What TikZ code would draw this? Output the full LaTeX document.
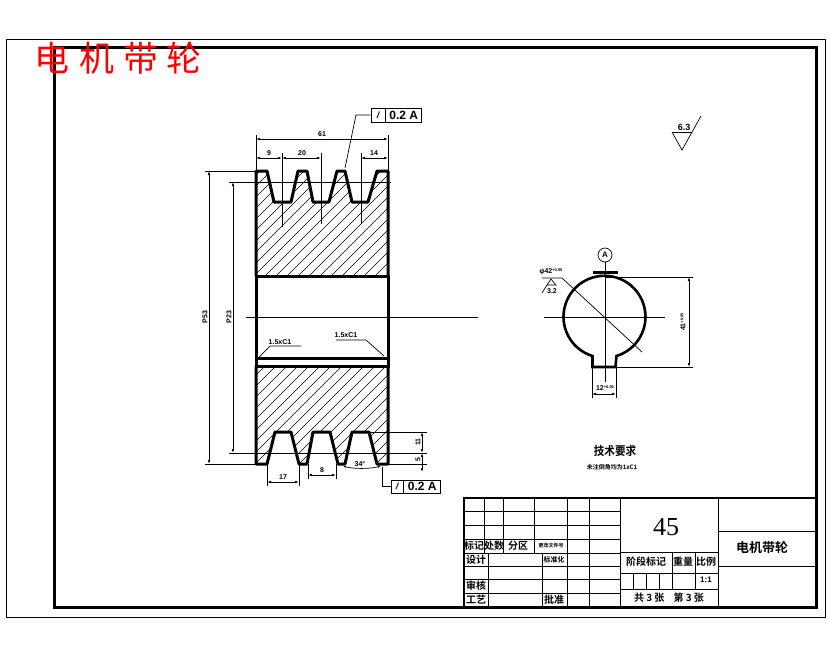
\documentclass[tikz,border=0pt]{standalone}
\usepackage{fontspec}
\setmainfont{Liberation Sans}
\newfontfamily\cjk{Noto Sans CJK SC}
\newfontfamily\cjkbold{Noto Sans CJK SC Bold}
\newfontfamily\numfont{Liberation Serif}
\usetikzlibrary{arrows.meta}
\tikzset{
  thin line/.style={line width=0.7pt},
  thick line/.style={line width=3pt},
  grid line/.style={line width=0.9pt},
  dim line/.style={line width=0.7pt,{Latex[length=4pt,width=2.6pt]}-{Latex[length=4pt,width=2.6pt]}},
  dim text/.style={inner sep=0pt,font=\fontsize{7}{7}\selectfont\bfseries},
  cell text/.style={inner sep=0pt,font=\fontsize{10}{10}\selectfont\cjkbold},
  title char/.style={inner sep=0pt,text=red,font=\fontsize{35}{35}\selectfont\cjk},
  hatch line/.style={line width=0.5pt}
}
\newcommand{\tolup}{\raisebox{2pt}{\fontsize{4}{4}\selectfont +0.05}}
\begin{document}
\begin{tikzpicture}[x=1pt,y=-1pt,line cap=butt,line join=miter]
\useasboundingbox (0,0) rectangle (830,654);
% frames
\draw [thin line] (6,39) rectangle (825,617);
\draw [thick line] (54,47) rectangle (816,607);
\node [title char] (titlea) at (52,58) {电};
\node [title char] (titleb) at (97,58) {机};
\node [title char] (titlec) at (141,58) {带};
\node [title char] (titled) at (184,58) {轮};
% hatching
\begin{scope}
\clip (256,171)--(267,171)--(274,202)--(291,202)--(298,171)--(307,171)--(313,202)--(329,202)--(337,171)--(345,171)--(352,202)--(368,202)--(377,171)--(388,171)--(388,276)--(256,276)--cycle;
\foreach \c in {420,431,...,680} {\draw [hatch line] (\c-170,170)--(\c-280,280);}
\end{scope}
\begin{scope}
\clip (256,366)--(388,366)--(388,464)--(377,464)--(369,432)--(352,432)--(345,464)--(338,464)--(330,432)--(313,432)--(307,464)--(299,464)--(291,432)--(275,432)--(267,464)--(256,464)--cycle;
\foreach \c in {620,631,...,860} {\draw [hatch line] (\c-360,360)--(\c-470,470);}
\end{scope}
% pulley
\draw [thick line,line join=round] (256,276)--(256,171)--(267,171)--(274,202)--(291,202)--(298,171)--(307,171)--(313,202)--(329,202)--(337,171)--(345,171)--(352,202)--(368,202)--(377,171)--(388,171)--(388,276);
\draw [thick line,line join=round] (256,366)--(256,464)--(267,464)--(275,432)--(291,432)--(299,464)--(307,464)--(313,432)--(330,432)--(338,464)--(345,464)--(352,432)--(369,432)--(377,464)--(388,464)--(388,366);
\draw [thick line] (256,276) rectangle (388,366);
\draw [thick line] (256,358)--(388,358);
\draw [thin line] (246,317)--(478,317);
% upper dims
\draw [thin line] (256,135)--(256,171);
\draw [thin line] (388,135)--(388,171);
\draw [dim line] (256,139)--(388,139);
\node [dim text] (widthtxt) at (322,134) {61};
\draw [thin line] (282,153)--(282,227);
\draw [thin line] (321,153)--(321,224);
\draw [thin line] (361,153)--(361,224);
\draw [dim line] (256,158)--(282,158);
\draw [dim line] (282,158)--(321,158);
\draw [dim line] (361,158)--(388,158);
\node [dim text] (ledgetxt) at (269,153) {9};
\node [dim text] (pitchtxt) at (302,153) {20};
\node [dim text] (edgetxt) at (374,153) {14};
% tolerance top
\node [draw,thin line,minimum width=14pt,minimum height=14pt,inner sep=0pt,font=\fontsize{9}{9}\selectfont\bfseries\itshape] (runa) at (378,115) {/};
\node [draw,thin line,anchor=west,minimum width=36pt,minimum height=14pt,inner sep=0pt,font=\fontsize{12}{12}\selectfont\bfseries] (tola) at (runa.east) {0.2 A};
\coordinate (arrowa) at (345,168);
\draw [thin line] (runa.west)--(356,115)--(arrowa);
% diameters
\draw [thin line] (205,171)--(256,171);
\draw [thin line] (229,182)--(391,182);
\draw [thin line] (205,464)--(256,464);
\draw [thin line] (229,453)--(427,453);
\draw [thin line] (388,464)--(427,464);
\draw [thin line] (369,432)--(427,432);
\draw [dim line] (209,171)--(209,464);
\draw [dim line] (233,182)--(233,453);
\node [dim text,rotate=90] (outerdia) at (205,317) {P53};
\node [dim text,rotate=90] (pitchdia) at (229,317) {P23};
\draw [dim line] (422,432)--(422,453);
\draw [dim line] (422,453)--(422,472);
\node [dim text,rotate=90] (depthtxt) at (418,442) {11};
\node [dim text,rotate=90] (rimtxt) at (418,460) {5};
% lower dims
\draw [thin line] (267,464)--(267,486);
\draw [thin line] (299,464)--(299,486);
\draw [dim line] (267,482)--(299,482);
\node [dim text] (topwtxt) at (283,477) {17};
\draw [thin line] (308,464)--(308,479);
\draw [thin line] (336,464)--(336,479);
\draw [dim line] (308,475)--(336,475);
\node [dim text] (botwtxt) at (322,470) {8};
\draw [thin line,{Latex[length=3pt,width=2pt]}-{Latex[length=3pt,width=2pt]}] (343,466) .. controls (353,469) and (370,469) .. (381,466);
\node [dim text] (angletxt) at (360,464) {34°};
% tolerance bottom
\node [draw,thin line,minimum width=12pt,minimum height=13pt,inner sep=0pt,font=\fontsize{9}{9}\selectfont\bfseries\itshape] (runb) at (397,486.5) {/};
\node [draw,thin line,anchor=west,minimum width=37pt,minimum height=13pt,inner sep=0pt,font=\fontsize{12}{12}\selectfont\bfseries] (tolb) at (runb.east) {0.2 A};
\coordinate (arrowb) at (382,467);
\draw [thin line] (runb.west)--(382,486.5)--(arrowb);
% chamfers
\node [dim text] (chamfera) at (280,342) {1.5xC1};
\draw [thin line] (259,357)--(270,346)--(301,346);
\node [dim text] (chamferb) at (346,335) {1.5xC1};
\draw [thin line] (336,340)--(366,340)--(384,356);
% section
\draw [line width=2.6pt] (592.5,367)--(592.5,356) arc (107:433:41) --(615.5,367)--cycle;
\draw [thin line] (605,262)--(605,382);
\draw [thin line] (544,317)--(665,317);
\node [draw,circle,thin line,minimum size=14pt,inner sep=0pt,font=\fontsize{8}{8}\selectfont\bfseries] (datum) at (605,255) {A};
\draw [thick line] (593,272)--(618,272);
\draw [thin line] (542,278)--(562,278)--(642,352);
\node [dim text] (diatxt) at (551,272) {φ42\tolup};
\draw [thin line] (547,285)--(551,279)--(556,285)--cycle;
\draw [thin line] (542,293)--(547,285);
\node [dim text] (rougha) at (552,291) {3.2};
\draw [thin line] (605,277)--(693,277);
\draw [thin line] (616,367)--(693,367);
\draw [dim line] (689,277)--(689,367);
\node [dim text,rotate=90] (keytxt) at (683,322) {41\tolup};
\draw [thin line] (592,367)--(592,398);
\draw [thin line] (616,367)--(616,398);
\draw [dim line] (592,394)--(616,394);
\node [dim text] (keywtxt) at (605,388) {12\tolup};
% roughness
\draw [thin line] (672,132)--(692,132);
\draw [thin line] (672,132)--(682,150)--(701,116);
\node [dim text,font=\fontsize{9}{9}\selectfont\bfseries] (roughb) at (684,127) {6.3};
% notes
\node [cell text,xscale=0.88,font=\fontsize{12}{12}\selectfont\cjkbold] (notehead) at (615,451) {技术要求};
\node [cell text,font=\fontsize{6}{6}\selectfont\cjkbold] (notebody) at (612,467) {未注倒角均为1xC1};
% title block
\draw [line width=2pt] (464,607)--(464,498)--(816,498);
\foreach \y in {511,525,539,553,566,579,593} {\draw [grid line] (464,\y)--(620,\y);}
\foreach \x in {484,503,534} {\draw [grid line] (\x,498)--(\x,553);}
\foreach \x in {488,542} {\draw [grid line] (\x,553)--(\x,607);}
\foreach \x in {567,589,620,718} {\draw [grid line] (\x,498)--(\x,607);}
\draw [grid line] (620,552)--(718,552);
\draw [grid line] (620,573)--(718,573);
\draw [grid line] (620,589)--(718,589);
\foreach \x in {672,695} {\draw [grid line] (\x,552)--(\x,589);}
\foreach \x in {633,646,659} {\draw [grid line] (\x,573)--(\x,589);}
\draw [grid line] (718,531)--(816,531);
\draw [grid line] (718,566)--(816,566);
\node [cell text] (cella) at (474,546) {标记};
\node [cell text] (cellb) at (494,546) {处数};
\node [cell text] (cellc) at (518,546) {分区};
\node [cell text,font=\fontsize{5}{5}\selectfont\cjkbold] (celld) at (551,546) {更改文件号};
\node [cell text] (celle) at (476,560) {设计};
\node [cell text,font=\fontsize{7}{7}\selectfont\cjkbold] (cellf) at (554,560) {标准化};
\node [cell text] (cellg) at (476,586) {审核};
\node [cell text] (cellh) at (476,600) {工艺};
\node [cell text] (celli) at (554,600) {批准};
\node [cell text] (cellj) at (646,562) {阶段标记};
\node [cell text] (cellk) at (683,562) {重量};
\node [cell text] (celll) at (706,562) {比例};
\node [dim text,font=\fontsize{8}{8}\selectfont\bfseries] (scaletxt) at (706,580) {1:1};
\node [cell text] (sheets) at (669,598) {共 3 张\ \ \ \ 第 3 张};
\node [inner sep=0pt,font=\fontsize{26}{26}\selectfont\numfont] (material) at (666,527) {45};
\node [cell text,font=\fontsize{13}{13}\selectfont\cjkbold] (partname) at (762,548) {电机带轮};
\end{tikzpicture}
\end{document}
